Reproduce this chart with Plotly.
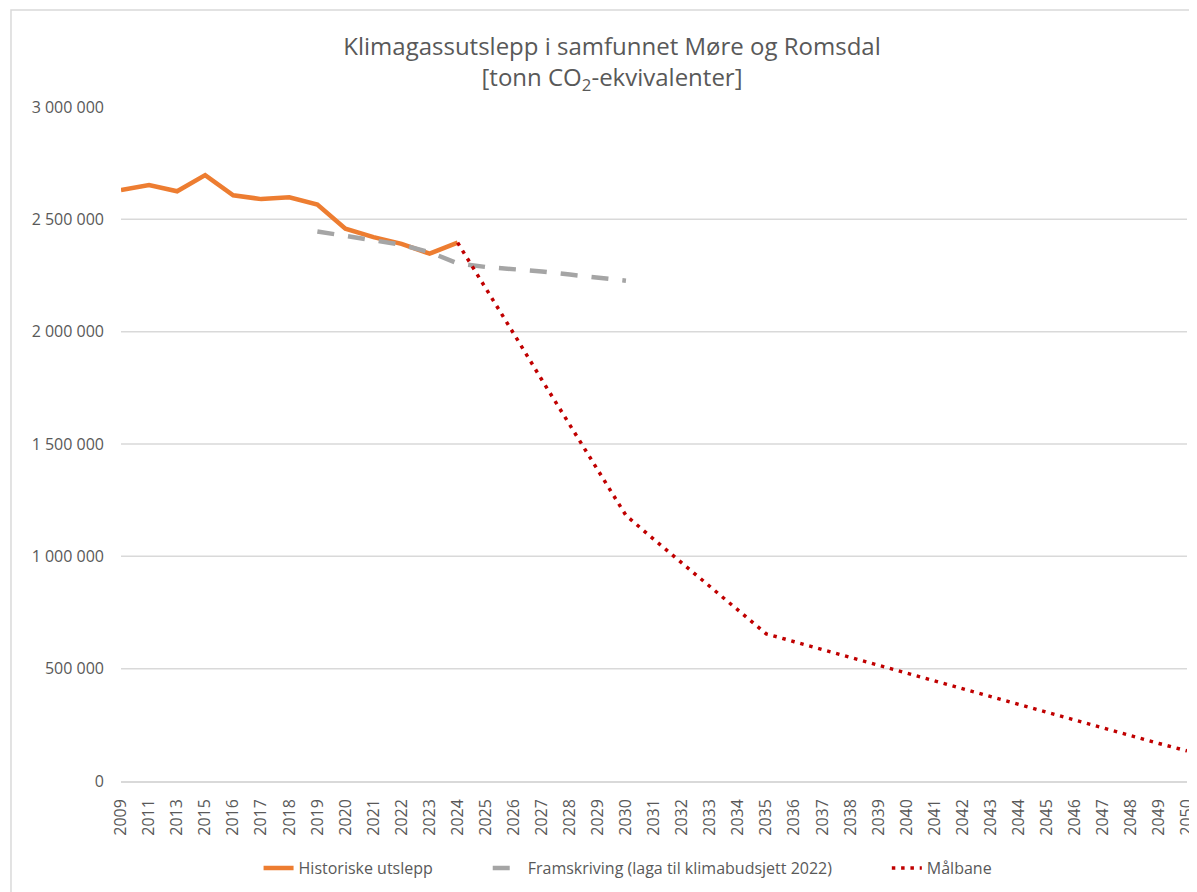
import plotly.graph_objects as go

# Kategoriar på x-aksen (ikkje jamne år i starten)
aar = [
    "2009", "2011", "2013", "2015", "2016", "2017", "2018", "2019", "2020",
    "2021", "2022", "2023", "2024", "2025", "2026", "2027", "2028", "2029",
    "2030", "2031", "2032", "2033", "2034", "2035", "2036", "2037", "2038",
    "2039", "2040", "2041", "2042", "2043", "2044", "2045", "2046", "2047",
    "2048", "2049", "2050",
]

historiske_aar = aar[:13]
historiske_utslepp = [
    2630000, 2653000, 2625000, 2697000, 2607000, 2590000, 2598000,
    2566000, 2458000, 2421000, 2391000, 2347000, 2396000,
]

framskriving_aar = aar[7:19]
framskriving = [
    2446000, 2428000, 2410000, 2387000, 2354000, 2304000,
    2288000, 2279000, 2268000, 2254000, 2240000, 2227000,
]

maalbane_aar = aar[12:]
maalbane = [
    2396000, 2190000, 1991000, 1786000, 1583000, 1379000, 1182000,
    1075000, 970000, 864000, 759000, 655000, 620000, 585000, 550000,
    514000, 479000, 444000, 409000, 376000, 341000, 306000, 271000,
    235000, 200000, 167000, 134000,
]

y_ticks = [0, 500000, 1000000, 1500000, 2000000, 2500000, 3000000]
y_ticktext = ["0", "500 000", "1 000 000", "1 500 000", "2 000 000", "2 500 000", "3 000 000"]
rutenett = [500000, 1000000, 1500000, 2000000, 2500000]

FONT = "Open Sans"
TEXT = "#595959"
GRID = "#d9d9d9"
PAD = "\u00a0" * 12  # ekstra luft mellom legendeelementa

fig = go.Figure()

fig.add_trace(go.Scatter(
    x=historiske_aar, y=historiske_utslepp, mode="lines",
    name="Historiske utslepp" + PAD,
    line=dict(color="#ED7D31", width=4.5),
))
fig.add_trace(go.Scatter(
    x=framskriving_aar, y=framskriving, mode="lines",
    name="Framskriving (laga til klimabudsjett 2022)" + PAD,
    line=dict(color="#A5A5A5", width=4.5, dash="17px,14px"),
))
fig.add_trace(go.Scatter(
    x=maalbane_aar, y=maalbane, mode="lines",
    name="Målbane",
    line=dict(color="#C00000", width=3.5, dash="3.5px,5.8px"),
))

# horisontale rutenettlinjer (ingen linje på toppen)
for v in rutenett:
    fig.add_shape(type="line", xref="paper", yref="y", x0=0, x1=1, y0=v, y1=v,
                  line=dict(color=GRID, width=1.5), layer="below")

# ramme rundt heile diagrammet
fig.add_shape(type="rect", xref="paper", yref="paper",
              x0=-0.1032, x1=1.05, y0=-0.3, y1=1.1439,
              line=dict(color=GRID, width=1.5))

# sida har 8px body-marg, så figuren er 8px mindre og flytta tilsvarande
fig.update_layout(
    width=1189,
    height=884,
    margin=dict(l=113, r=0, t=99, b=111),
    paper_bgcolor="white",
    plot_bgcolor="white",
    font=dict(family=FONT, size=16, color=TEXT),
    title=dict(
        text="Klimagassutslepp i samfunnet Møre og Romsdal<br>[tonn CO<sub>2</sub>-ekvivalenter]",
        x=0.508, xref="container", xanchor="center",
        y=0.947, yref="container", yanchor="top",
        font=dict(family=FONT, size=24, color=TEXT),
    ),
    xaxis=dict(
        type="category",
        categoryorder="array",
        categoryarray=aar,
        tickangle=-90,
        showgrid=False,
        showline=True,
        linecolor=GRID,
        linewidth=1.5,
        ticks="",
        ticklabelstandoff=10,
        tickfont=dict(size=16, color=TEXT),
        fixedrange=True,
    ),
    yaxis=dict(
        range=[0, 3000000],
        tickvals=y_ticks,
        ticktext=y_ticktext,
        showgrid=False,
        zeroline=False,
        showline=False,
        ticks="",
        ticklabelstandoff=16,
        tickfont=dict(size=16, color=TEXT),
    ),
    legend=dict(
        orientation="h",
        xref="container", yref="container",
        x=0.5215, xanchor="center",
        y=0.0271, yanchor="middle",
        font=dict(size=16, color=TEXT),
    ),
    showlegend=True,
)

fig.write_html("out.html")
